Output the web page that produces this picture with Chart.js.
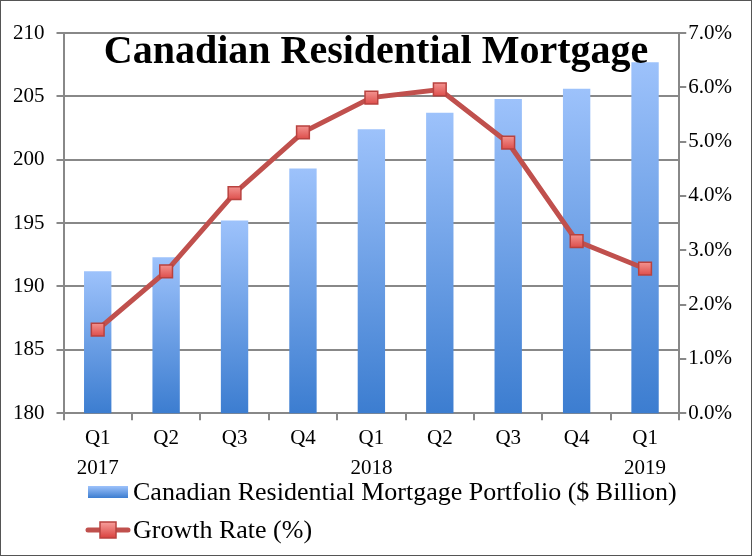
<!DOCTYPE html>
<html>
<head>
<meta charset="utf-8">
<script src="https://cdn.jsdelivr.net/npm/chart.js@4"></script>
<style>
  html, body { margin: 0; padding: 0; background: #fff; }
  #wrap { width: 752px; height: 556px; position: relative; }
</style>
</head>
<body>
<div id="wrap"><canvas id="chart"></canvas></div>
<script>
const quarters = [['Q1', '2017'], 'Q2', 'Q3', 'Q4', ['Q1', '2018'], 'Q2', 'Q3', 'Q4', ['Q1', '2019']];
const portfolio = [191.2, 192.3, 195.2, 199.3, 202.4, 203.7, 204.8, 205.6, 207.7];
const growthRate = [1.54, 2.61, 4.05, 5.17, 5.81, 5.96, 4.98, 3.17, 2.66];

const titleText = 'Canadian Residential Mortgage';
const serif = "'Liberation Serif', 'DejaVu Serif', serif";
const gridGray = '#888';

// each bar fades from light blue at its top to deeper blue at the base
const barFill = (ctx) => {
  const chart = ctx.chart;
  const area = chart.chartArea;
  const y = chart.scales.y;
  if (!area || !y || ctx.raw == null) return '#6b9de6';
  const top = y.getPixelForValue(ctx.raw);
  if (!Number.isFinite(top) || !Number.isFinite(area.bottom) || top >= area.bottom) return '#6b9de6';
  const g = chart.ctx.createLinearGradient(0, top, 0, area.bottom);
  g.addColorStop(0, '#9dc2fb');
  g.addColorStop(1, '#3c7dd0');
  return g;
};

const markerFill = (ctx) => {
  const chart = ctx.chart;
  const y1 = chart.scales.y1;
  if (!y1 || ctx.raw == null) return '#e4706d';
  const py = y1.getPixelForValue(ctx.raw);
  if (!Number.isFinite(py)) return '#e4706d';
  const g = chart.ctx.createLinearGradient(0, py - 9, 0, py + 9);
  g.addColorStop(0, '#f7a09d');
  g.addColorStop(1, '#d9413e');
  return g;
};

const titleAndFrame = {
  id: 'titleAndFrame',
  afterDraw(chart) {
    const ctx = chart.ctx;
    ctx.save();
    // chart title sits inside the plot area
    ctx.font = 'bold 40px ' + serif;
    ctx.fillStyle = '#000';
    ctx.textAlign = 'center';
    ctx.textBaseline = 'alphabetic';
    ctx.fillText(titleText, 376, 63);

    // legend
    const ds = chart.data.datasets;
    ctx.font = '26px ' + serif;
    ctx.textAlign = 'left';
    ctx.textBaseline = 'middle';

    const y1 = 492;
    const g = ctx.createLinearGradient(0, y1 - 6, 0, y1 + 6);
    g.addColorStop(0, '#9dc2fb');
    g.addColorStop(1, '#3c7dd0');
    ctx.fillStyle = g;
    ctx.fillRect(88, y1 - 6, 40, 12);
    ctx.fillStyle = '#000';
    ctx.fillText(ds[0].label, 133, y1 + 1);

    const y2 = 530;
    ctx.strokeStyle = '#c0504d';
    ctx.lineWidth = 5;
    ctx.lineCap = 'round';
    ctx.beginPath();
    ctx.moveTo(88, y2);
    ctx.lineTo(128, y2);
    ctx.stroke();
    const mg = ctx.createLinearGradient(0, y2 - 8, 0, y2 + 8);
    mg.addColorStop(0, '#f7a09d');
    mg.addColorStop(1, '#d9413e');
    ctx.fillStyle = mg;
    ctx.fillRect(100, y2 - 8, 16, 16);
    ctx.strokeStyle = '#b8423f';
    ctx.lineWidth = 1.5;
    ctx.strokeRect(100, y2 - 8, 16, 16);
    ctx.fillStyle = '#000';
    ctx.fillText(ds[1].label, 133, y2 + 1);

    // outer frame
    ctx.strokeStyle = '#555';
    ctx.lineWidth = 1;
    ctx.strokeRect(0.5, 0.5, chart.width - 1, chart.height - 1);
    ctx.restore();
  }
};

new Chart(document.getElementById('chart'), {
  data: {
    labels: quarters,
    datasets: [
      {
        type: 'bar',
        label: 'Canadian Residential Mortgage Portfolio ($ Billion)',
        data: portfolio,
        yAxisID: 'y',
        backgroundColor: barFill,
        borderWidth: 0,
        barPercentage: 0.4,
        categoryPercentage: 1.0,
        order: 1
      },
      {
        type: 'line',
        label: 'Growth Rate (%)',
        data: growthRate,
        yAxisID: 'y1',
        borderColor: '#c0504d',
        borderWidth: 5,
        pointStyle: 'rect',
        pointRadius: 9,
        pointBackgroundColor: markerFill,
        pointBorderColor: '#b8423f',
        pointBorderWidth: 1.5,
        tension: 0,
        order: 0
      }
    ]
  },
  options: {
    responsive: true,
    maintainAspectRatio: false,
    animation: false,
    layout: { padding: { top: 33, left: 1, right: 18, bottom: 69 } },
    plugins: {
      legend: { display: false },
      title: { display: false },
      tooltip: { enabled: false }
    },
    scales: {
      x: {
        offset: true,
        grid: {
          offset: true,
          drawOnChartArea: false,
          drawTicks: true,
          tickLength: 7,
          color: gridGray,
          lineWidth: 2
        },
        border: { color: gridGray, width: 2 },
        ticks: {
          color: '#000',
          font: { family: serif, size: 21, lineHeight: 1.4 },
          maxRotation: 0,
          autoSkip: false,
          padding: 4
        }
      },
      y: {
        position: 'left',
        min: 180,
        max: 210,
        grid: { color: gridGray, lineWidth: 2, tickLength: 7 },
        border: { color: gridGray, width: 2 },
        ticks: {
          stepSize: 5,
          color: '#000',
          font: { family: serif, size: 21 },
          padding: 12
        }
      },
      y1: {
        position: 'right',
        min: 0,
        max: 7,
        grid: { drawOnChartArea: false, color: gridGray, lineWidth: 2, tickLength: 7 },
        border: { color: gridGray, width: 2 },
        ticks: {
          stepSize: 1,
          color: '#000',
          font: { family: serif, size: 21 },
          padding: 2,
          callback: (v) => v.toFixed(1) + '%'
        }
      }
    }
  },
  plugins: [titleAndFrame]
});
</script>
</body>
</html>
